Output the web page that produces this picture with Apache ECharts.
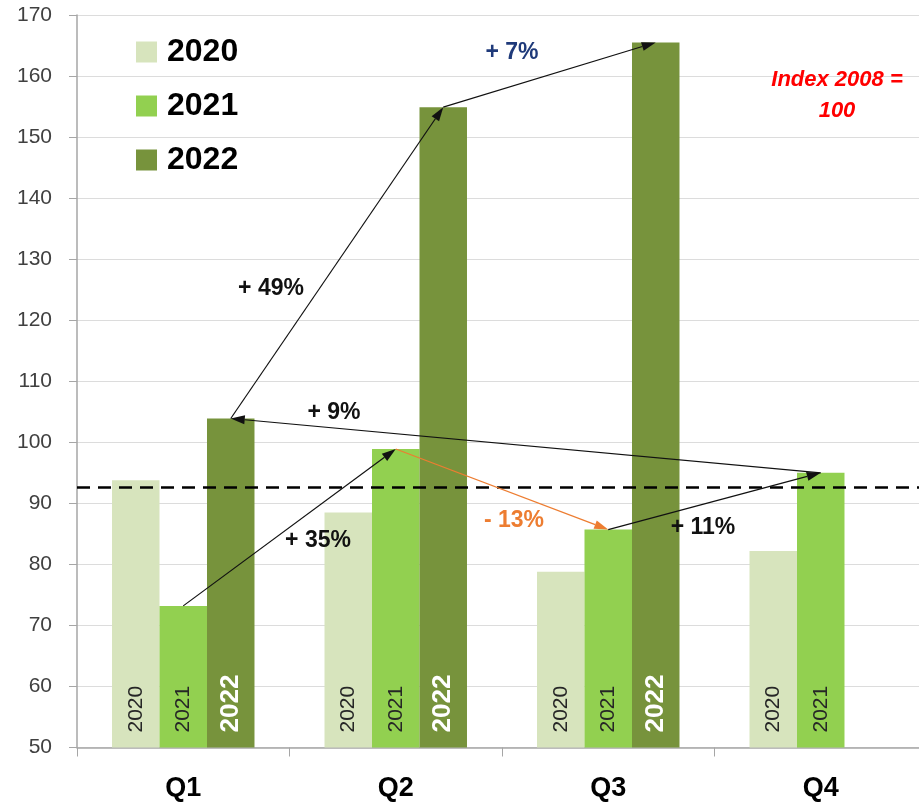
<!DOCTYPE html>
<html>
<head>
<meta charset="utf-8">
<script src="https://cdn.jsdelivr.net/npm/echarts@6/dist/echarts.min.js"></script>
<style>
  html, body { margin: 0; padding: 0; background: #fff; overflow: hidden; }
  #chart { width: 927px; height: 810px; }
</style>
</head>
<body>
<div id="chart"></div>
<script>
// Quarterly index values (2008 = 100)
const quarters = ['Q1', 'Q2', 'Q3', 'Q4'];
const years = ['2020', '2021', '2022'];
const values2020 = [93.8, 88.5, 78.8, 82.2];
const values2021 = [73.2, 98.9, 85.7, 95.0];
const values2022 = [103.9, 154.9, 165.5, null];
const referenceLevel = 92.7;

// Value axis ticks
const yMin = 50;
const yMax = 170;
const yStep = 10;

// Change arrows between bars: [quarter, year] -> [quarter, year]
const changeFrom = [['Q1', '2021'], ['Q1', '2022'], ['Q2', '2022'], ['Q2', '2021'], ['Q3', '2021'], ['Q4', '2021']];
const changeTo   = [['Q2', '2021'], ['Q2', '2022'], ['Q3', '2022'], ['Q3', '2021'], ['Q4', '2021'], ['Q1', '2022']];
const changeText = ['+ 35%', '+ 49%', '+ 7%', '- 13%', '+ 11%', '+ 9%'];
const changeKind = ['up', 'up', 'up', 'down', 'up', 'up'];

const seriesValues = { '2020': values2020, '2021': values2021, '2022': values2022 };
const barColors = { '2020': '#D7E4BD', '2021': '#92D050', '2022': '#77933C' };
const arrowColors = { up: '#111111', down: '#ED7D31' };
const labelColors = { up: '#111111', down: '#ED7D31' };
const FONT = '"Liberation Sans", Arial, sans-serif';
const BAR_FRACTION = 0.2235;

const arrowData = changeFrom.map(function (f, i) {
  const t = changeTo[i];
  return [
    quarters.indexOf(f[0]), years.indexOf(f[1]), seriesValues[f[1]][quarters.indexOf(f[0])],
    quarters.indexOf(t[0]), years.indexOf(t[1]), seriesValues[t[1]][quarters.indexOf(t[0])]
  ];
});

function barSeries(year) {
  const isLast = year === '2022';
  return {
    name: year,
    type: 'bar',
    data: seriesValues[year],
    barWidth: (BAR_FRACTION * 100) + '%',
    barGap: '0%',
    itemStyle: { color: barColors[year] },
    label: {
      show: true,
      position: 'insideBottom',
      rotate: 90,
      align: 'left',
      verticalAlign: 'middle',
      distance: 15,
      formatter: year,
      fontFamily: FONT,
      fontSize: isLast ? 26 : 21,
      fontWeight: isLast ? 'bold' : 'normal',
      color: isLast ? '#ffffff' : '#262626'
    },
    z: 2
  };
}

const series = years.map(barSeries);

// dashed reference level across the plot
series[0].markLine = {
  silent: true,
  symbol: 'none',
  label: { show: false },
  lineStyle: { color: '#000', width: 2.5, type: [13, 8] },
  data: [{ yAxis: referenceLevel }],
  z: 5
};

// arrows from bar top to bar top
series.push({
  type: 'custom',
  coordinateSystem: 'cartesian2d',
  silent: true,
  z: 6,
  encode: { x: 0, y: 2 },
  data: arrowData,
  renderItem: function (params, api) {
    const band = api.size([1, 0])[0];
    const p0 = api.coord([api.value(0), api.value(2)]);
    p0[0] += (api.value(1) - 1) * band * BAR_FRACTION;
    const p1 = api.coord([api.value(3), api.value(5)]);
    p1[0] += (api.value(4) - 1) * band * BAR_FRACTION;
    const color = arrowColors[changeKind[params.dataIndex]];
    const dx = p1[0] - p0[0], dy = p1[1] - p0[1];
    const len = Math.sqrt(dx * dx + dy * dy);
    const ux = dx / len, uy = dy / len;
    const L = 14, W = 4.5;
    const bx = p1[0] - ux * L, by = p1[1] - uy * L;
    return {
      type: 'group',
      children: [
        { type: 'line', shape: { x1: p0[0], y1: p0[1], x2: bx, y2: by },
          style: { stroke: color, lineWidth: 1.2 } },
        { type: 'polygon',
          shape: { points: [[p1[0], p1[1]], [bx - uy * W, by + ux * W], [bx + uy * W, by - ux * W]] },
          style: { fill: color } }
      ]
    };
  }
});

// label placement for the change annotations
const changeLabelPos = [[318, 541], [271, 289], [512, 53], [514, 521], [703, 528], [334, 413]];
const graphics = changeText.map(function (txt, i) {
  return {
    type: 'text',
    x: changeLabelPos[i][0],
    y: changeLabelPos[i][1],
    z: 100,
    style: {
      text: txt,
      fill: i === 2 ? '#1F3A7A' : labelColors[changeKind[i]],
      font: 'bold 23px ' + FONT,
      align: 'center',
      verticalAlign: 'middle'
    }
  };
});
graphics.push({
  type: 'text',
  x: 837,
  y: 95,
  z: 100,
  style: {
    text: 'Index 2008 =\n100',
    fill: '#FF0000',
    font: 'italic bold 22px ' + FONT,
    lineHeight: 31,
    align: 'center',
    verticalAlign: 'middle'
  }
});

const chart = echarts.init(document.getElementById('chart'), null, { renderer: 'canvas' });
chart.setOption({
  animation: false,
  backgroundColor: '#ffffff',
  textStyle: { fontFamily: FONT },
  grid: { left: 77, right: 0, top: 15, bottom: 62.5, containLabel: false },
  legend: {
    data: years,
    orient: 'vertical',
    left: 131,
    top: 31,
    icon: 'rect',
    itemWidth: 21,
    itemHeight: 21,
    itemGap: 22,
    selectedMode: false,
    textStyle: {
      fontFamily: FONT,
      fontSize: 32,
      fontWeight: 'bold',
      color: '#000',
      lineHeight: 32,
      padding: [0, 0, 0, 5]
    }
  },
  xAxis: {
    type: 'category',
    data: quarters,
    axisLine: { lineStyle: { color: '#A6A6A6', width: 1.5 } },
    axisTick: { show: true, length: 9, interval: 0, lineStyle: { color: '#A6A6A6' } },
    axisLabel: { margin: 28, fontSize: 27, fontWeight: 'bold', color: '#000', fontFamily: FONT },
    splitLine: { show: false }
  },
  yAxis: {
    type: 'value',
    min: yMin,
    max: yMax,
    interval: yStep,
    axisLine: { show: true, lineStyle: { color: '#A6A6A6', width: 1.5 } },
    axisTick: { show: true, length: 8, lineStyle: { color: '#A6A6A6' } },
    axisLabel: { margin: 25, fontSize: 21, color: '#404040', fontFamily: FONT },
    splitLine: { lineStyle: { color: '#DCDCDC', width: 1.2 } }
  },
  series: series,
  graphic: graphics
});
</script>
</body>
</html>
